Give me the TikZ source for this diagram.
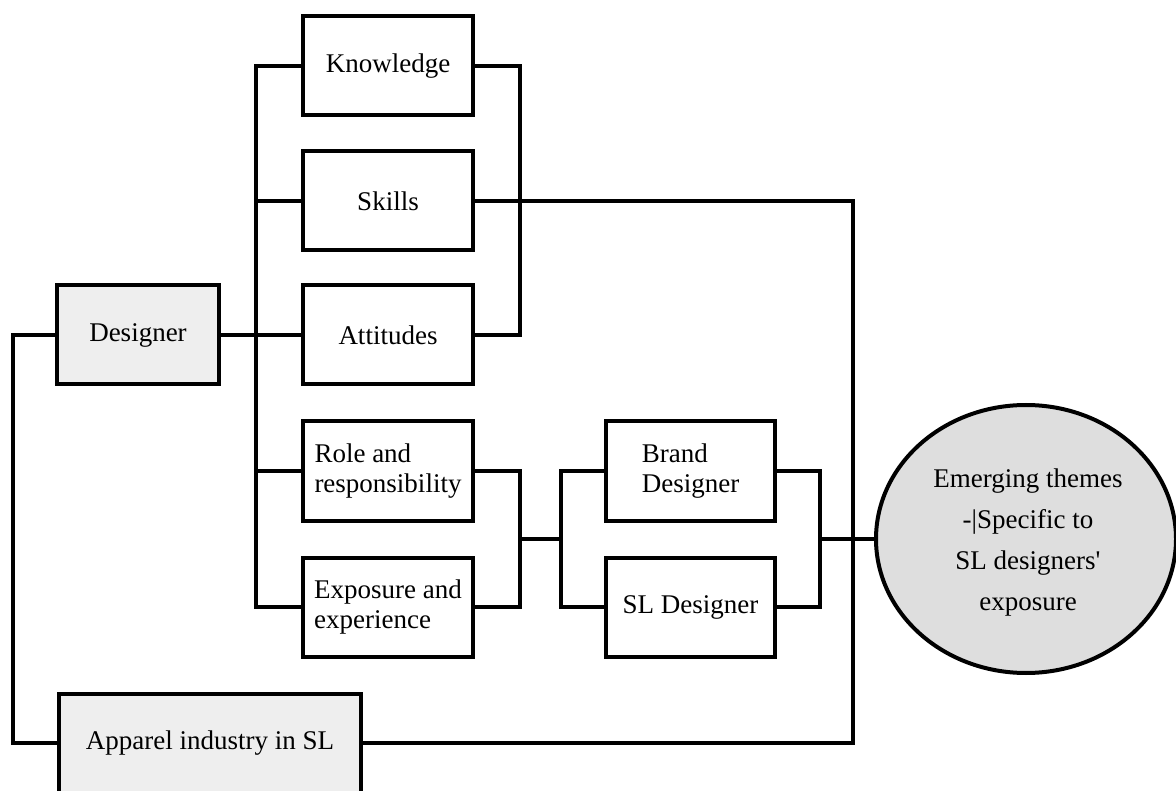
\documentclass[tikz,border=0pt]{standalone}
\usepackage{fontspec}
\setmainfont{Liberation Serif}
\usetikzlibrary{shapes.geometric}
\definecolor{boxgray}{HTML}{EEEEEE}
\definecolor{ellgray}{HTML}{DEDEDE}
\begin{document}
\begin{tikzpicture}[x=1pt,y=-1pt,
  box/.style={draw=black, line width=4pt, fill=white, inner sep=0pt, minimum height=99pt, align=center, font=\fontsize{27}{30}\selectfont},
  graybox/.style={box, fill=boxgray},
  conn/.style={line width=4pt},
  bigell/.style={ellipse, draw=black, line width=4pt, fill=ellgray, minimum width=300pt, minimum height=268pt, inner sep=0pt},
  elltext/.style={inner sep=0pt, align=center, font=\fontsize{27}{41}\selectfont}]
\useasboundingbox (0,0) rectangle (1176,791);
\clip (0,0) rectangle (1176,791);

\node[box, minimum width=170pt] (know) at (388,66) {Knowledge};
\node[box, minimum width=170pt] (skills) at (388,201) {Skills};
\node[box, minimum width=170pt] (att) at (388,335) {Attitudes};
\node[graybox, minimum width=162pt] (des) at (138,335) {Designer};
\node[box, minimum width=170pt, align=left] (role) at (388,471) {Role and\\responsibility};
\node[box, minimum width=170pt, align=left] (expo) at (388,607) {Exposure and\\experience};
\node[box, minimum width=169pt, align=left] (brand) at (690.5,471) {Brand\\Designer};
\node[box, minimum width=169pt] (sl) at (690.5,607) {SL Designer};
\node[graybox, minimum width=302pt] (app) at (210,743) {Apparel industry in SL};
\node[bigell] (emg) at (1026,539) {};
\node[elltext] (emgtext) at (1028,543) {Emerging themes\\-|Specific to\\SL designers\textquotesingle\\exposure};

\coordinate (tk) at (256,0);
\coordinate (rb) at (520,0);
\coordinate (lb) at (561,0);
\coordinate (rb2) at (820,0);
\coordinate (fb) at (853,0);
\coordinate (lx) at (13,0);
\coordinate (m1) at (520,538.5);
\coordinate (m2) at (561,538.5);

\draw[conn] (know.west) -- (know.west -| tk) -- (expo.west -| tk) -- (expo.west);
\draw[conn] (skills.west) -- (skills.west -| tk);
\draw[conn] (role.west) -- (role.west -| tk);
\draw[conn] (des.east) -- (att.west);
\draw[conn] (know.east) -- (know.east -| rb) -- (att.east -| rb) -- (att.east);
\draw[conn] (skills.east) -- (skills.east -| fb) -- (app.east -| fb) -- (app.east);
\draw[conn] (role.east) -- (role.east -| rb) -- (expo.east -| rb) -- (expo.east);
\draw[conn] (m1) -- (m2);
\draw[conn] (brand.west) -- (brand.west -| lb) -- (sl.west -| lb) -- (sl.west);
\draw[conn] (brand.east) -- (brand.east -| rb2) -- (sl.east -| rb2) -- (sl.east);
\draw[conn] (emg.west -| rb2) -- (emg.west);
\draw[conn] (des.west) -- (des.west -| lx) -- (app.west -| lx) -- (app.west);
\end{tikzpicture}
\end{document}
